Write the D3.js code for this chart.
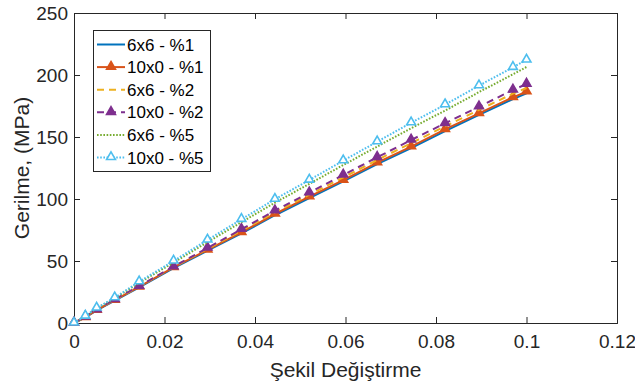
<!DOCTYPE html>
<html>
<head>
<meta charset="utf-8">
<script src="https://cdn.jsdelivr.net/npm/d3@7"></script>
<style>
  html, body { margin: 0; padding: 0; background: #fff; }
  svg { display: block; font-family: "Liberation Sans", Arial, Helvetica, sans-serif; }
</style>
</head>
<body>
<svg id="chart" width="635" height="388"></svg>
<script>
// ---- Data ----
const strain = [0, 0.0025, 0.005, 0.009, 0.0144, 0.022, 0.0295, 0.037, 0.0444, 0.052, 0.0595, 0.067, 0.0745, 0.082, 0.0895, 0.097, 0.1];

const s6x6_1  = [0, 4.5, 10.2, 18.1, 28.8, 44.2, 58.3, 72.2, 86.9, 100.8, 114.2, 128.1, 141.0, 154.8, 167.8, 180.6, 185.2];
const s10x0_1 = [0, 4.6, 10.4, 18.4, 29.2, 44.8, 59.0, 73.0, 87.9, 101.9, 115.3, 129.3, 142.2, 156.2, 169.1, 182.0, 186.5];
const s6x6_2  = [0, 4.8, 10.6, 18.7, 29.5, 45.2, 59.8, 74.5, 89.3, 103.5, 117.4, 131.5, 145.0, 158.6, 171.8, 185.0, 189.5];
const s10x0_2 = [0, 5.0, 10.8, 19.0, 29.8, 45.5, 60.5, 75.6, 90.6, 105.1, 119.4, 133.6, 147.6, 161.0, 174.4, 187.9, 192.7];
const s6x6_5  = [0, 5.4, 11.8, 19.9, 32.4, 48.7, 65.2, 81.3, 97.0, 112.2, 127.4, 142.3, 157.1, 171.3, 186.2, 200.6, 206.5];
const s10x0_5 = [0, 5.6, 12.1, 20.4, 33.3, 50.0, 67.0, 83.6, 99.8, 115.3, 130.9, 146.2, 161.5, 176.1, 191.4, 206.2, 212.1];

const seriesNames = ["6x6 - %1", "10x0 - %1", "6x6 - %2", "10x0 - %2", "6x6 - %5", "10x0 - %5"];
const xTicks = [0, 0.02, 0.04, 0.06, 0.08, 0.1, 0.12];
const yTicks = [0, 50, 100, 150, 200, 250];
const xLabel = "Şekil Değiştirme";
const yLabel = "Gerilme, (MPa)";

// ---- Styles ----
const styles = [
  { color: "#0072BD", dash: null,    marker: null },
  { color: "#D95319", dash: null,    marker: "filled" },
  { color: "#EDB120", dash: "7,5",   marker: null },
  { color: "#7E2F8E", dash: "7,5",   marker: "filled" },
  { color: "#77AC30", dash: "1.6,1.6", marker: null },
  { color: "#4DBEEE", dash: "1.6,1.6", marker: "open" }
];
const allSeries = [s6x6_1, s10x0_1, s6x6_2, s10x0_2, s6x6_5, s10x0_5];

const margin = { left: 74, right: 18, top: 13, bottom: 65 };
const W = 635, H = 388;
const svg = d3.select("#chart");
const x = d3.scaleLinear().domain([0, 0.12]).range([margin.left, W - margin.right]);
const y = d3.scaleLinear().domain([0, 250]).range([H - margin.bottom, margin.top]);

const axisColor = "#262626";
const tickFont = 19;

// axes
const gx = svg.append("g").attr("transform", `translate(0,${y(0)})`)
  .call(d3.axisBottom(x).tickValues(xTicks).tickFormat(d => d3.format("~g")(d)).tickSize(-6).tickPadding(12));
const gy = svg.append("g").attr("transform", `translate(${x(0)},0)`)
  .call(d3.axisLeft(y).tickValues(yTicks).tickFormat(d3.format("d")).tickSize(-6).tickPadding(6));
const gxt = svg.append("g").attr("transform", `translate(0,${y(250)})`)
  .call(d3.axisTop(x).tickValues(xTicks).tickFormat("").tickSize(-6));
const gyr = svg.append("g").attr("transform", `translate(${x(0.12)},0)`)
  .call(d3.axisRight(y).tickValues(yTicks).tickFormat("").tickSize(-6));
[gx, gy, gxt, gyr].forEach(g => {
  g.select(".domain").attr("stroke", axisColor).attr("stroke-width", 1);
  g.selectAll(".tick line").attr("stroke", axisColor).attr("stroke-width", 1);
  g.selectAll(".tick text").attr("fill", axisColor).style("font-size", tickFont + "px")
    .style("font-family", "'Liberation Sans', Arial, sans-serif");
});

// lines
const line = d3.line().x((d, i) => x(strain[i])).y(d => y(d));
allSeries.forEach((s, k) => {
  const st = styles[k];
  svg.append("path").datum(s)
    .attr("d", line)
    .attr("fill", "none")
    .attr("stroke", st.color)
    .attr("stroke-width", 2)
    .attr("stroke-dasharray", st.dash);
  if (st.marker) {
    const tri = d3.symbol().type(d3.symbolTriangle).size(34);
    svg.append("g").selectAll("path").data(s).join("path")
      .attr("d", tri)
      .attr("transform", (d, i) => `translate(${x(strain[i])},${y(d) - 0.5})`)
      .attr("fill", st.marker === "filled" ? st.color : "#fff")
      .attr("stroke", st.color)
      .attr("stroke-width", 1.6);
  }
});

// axis labels
svg.append("text")
  .attr("x", (x(0) + x(0.12)) / 2).attr("y", 377)
  .attr("text-anchor", "middle").attr("fill", axisColor)
  .style("font-size", "21px").text(xLabel);
svg.append("text")
  .attr("transform", `translate(29,${(y(0) + y(250)) / 2}) rotate(-90)`)
  .attr("text-anchor", "middle").attr("fill", axisColor)
  .style("font-size", "21px").text(yLabel);

// legend
const lg = svg.append("g");
const lx = 93, ly = 30, lw = 117, lh = 141;
lg.append("rect").attr("x", lx + 0.5).attr("y", ly + 0.5).attr("width", lw).attr("height", lh)
  .attr("fill", "#fff").attr("stroke", axisColor).attr("stroke-width", 1);
seriesNames.forEach((name, k) => {
  const st = styles[k];
  const cy = 44.5 + k * 22.6;
  lg.append("line").attr("x1", 97).attr("x2", 125).attr("y1", cy).attr("y2", cy)
    .attr("stroke", st.color).attr("stroke-width", 2).attr("stroke-dasharray", st.dash);
  if (st.marker) {
    lg.append("path").attr("d", d3.symbol().type(d3.symbolTriangle).size(34))
      .attr("transform", `translate(111,${cy - 0.5})`)
      .attr("fill", st.marker === "filled" ? st.color : "#fff")
      .attr("stroke", st.color).attr("stroke-width", 1.6);
  }
  lg.append("text").attr("x", 127).attr("y", cy).attr("dy", "0.36em")
    .attr("fill", "#000").style("font-size", "17px").text(name);
});
</script>
</body>
</html>
